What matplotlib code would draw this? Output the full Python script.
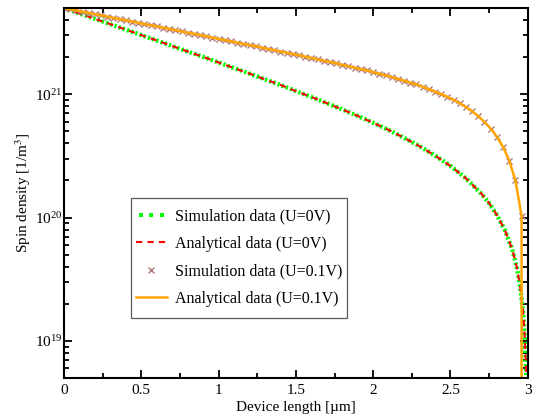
import numpy as np
import matplotlib
matplotlib.use('Agg')
import matplotlib.pyplot as plt
from matplotlib.lines import Line2D
from matplotlib.patches import Rectangle
from matplotlib.legend_handler import HandlerLine2D

plt.rcParams['font.family'] = ['Liberation Serif', 'DejaVu Serif']
plt.rcParams['mathtext.fontset'] = 'stix'

# U = 0V : spin density along the device
x_u0 = [0.0, 0.1, 0.2, 0.3, 0.4, 0.5, 0.6, 0.7, 0.8, 0.9,
        1.0, 1.1, 1.2, 1.3, 1.4, 1.5, 1.6, 1.7, 1.8, 1.9,
        2.0, 2.1, 2.2, 2.3, 2.4, 2.5, 2.6, 2.7, 2.75, 2.8,
        2.85, 2.9, 2.93, 2.95, 2.97, 2.98, 2.99, 3.0]
n_u0 = [5.00e21, 4.52e21, 4.09e21, 3.70e21, 3.34e21, 3.02e21, 2.73e21, 2.46e21, 2.22e21, 2.01e21,
        1.81e21, 1.63e21, 1.47e21, 1.32e21, 1.19e21, 1.06e21, 9.50e20, 8.47e20, 7.53e20, 6.67e20,
        5.87e20, 5.13e20, 4.43e20, 3.79e20, 3.18e20, 2.62e20, 2.08e20, 1.56e20, 1.31e20, 1.05e20,
        8.0e19, 5.5e19, 3.9e19, 2.8e19, 1.7e19, 1.1e19, 5.5e18, 0.0]

# U = 0.1V : sampled every 0.04 um
x_u01 = np.linspace(0, 3, 76)
n_u01 = [5.00e21, 4.89e21, 4.78e21, 4.67e21, 4.57e21, 4.46e21, 4.36e21, 4.26e21, 4.16e21, 4.07e21,
         3.98e21, 3.89e21, 3.80e21, 3.71e21, 3.63e21, 3.55e21, 3.47e21, 3.39e21, 3.31e21, 3.23e21,
         3.16e21, 3.09e21, 3.02e21, 2.95e21, 2.88e21, 2.81e21, 2.75e21, 2.69e21, 2.62e21, 2.56e21,
         2.50e21, 2.45e21, 2.39e21, 2.33e21, 2.28e21, 2.22e21, 2.17e21, 2.12e21, 2.07e21, 2.02e21,
         1.97e21, 1.92e21, 1.87e21, 1.83e21, 1.78e21, 1.73e21, 1.69e21, 1.64e21, 1.60e21, 1.56e21,
         1.51e21, 1.47e21, 1.42e21, 1.38e21, 1.33e21, 1.29e21, 1.24e21, 1.20e21, 1.15e21, 1.10e21,
         1.05e21, 1.00e21, 9.53e20, 9.00e20, 8.45e20, 7.87e20, 7.27e20, 6.64e20, 5.97e20, 5.27e20,
         4.53e20, 3.74e20, 2.90e20, 2.00e20, 1.03e20, 0.0]

labels = ['Simulation data (U=0V)', 'Analytical data (U=0V)',
          'Simulation data (U=0.1V)', 'Analytical data (U=0.1V)']

green = '#00ff00'
red = '#ff0000'
rose = '#b07a7a'
orange = '#ffa500'

fig = plt.figure(figsize=(5.38, 4.18), dpi=100)
ax = fig.add_axes([0.119, 0.0957, 0.862, 0.885])

ax.plot(x_u0, n_u0, color=green, lw=3.2, linestyle=(0, (0.5, 0.5)), dash_capstyle='butt')
ax.plot(x_u0, n_u0, color=red, lw=1.5, linestyle=(0, (3, 2.5)))
ax.plot(x_u01, n_u01, color=rose, ls='none', marker='x', ms=5, mew=1)
ax.plot(x_u01, n_u01, color=orange, lw=1.8)

ax.set_yscale('log')
ax.set_xlim(0, 3)
ax.set_ylim(5e18, 5e21)
ax.set_xticks([0, 0.5, 1, 1.5, 2, 2.5, 3])
ax.set_xticklabels(['0', '0.5', '1', '1.5', '2', '2.5', '3'])
ax.set_xticks(np.arange(0.25, 3, 0.5), minor=True)
ax.set_yticks([1e19, 1e20, 1e21])

ax.tick_params(which='both', direction='in', top=True, right=True, width=1.3, labelsize=11)
ax.tick_params(which='major', length=6)
ax.tick_params(which='minor', length=3.5)
ax.tick_params(axis='y', which='major', pad=1)
ax.tick_params(axis='x', which='major', pad=4)
for sp in ax.spines.values():
    sp.set_linewidth(1.5)

ax.set_xlabel('Device length [µm]', fontsize=11, labelpad=3)
ax.set_ylabel('Spin density [1/m$^3$]', fontsize=11)
ax.yaxis.set_label_coords(-0.066, 0.5)

# legend box drawn separately so the padding can differ per side
box = Rectangle((0.1444, 0.1622), 0.4655, 0.3243, transform=ax.transAxes,
                facecolor='white', edgecolor='0.35', lw=0.9, zorder=4.5)
ax.add_patch(box)

sim0 = Line2D([], [], color=green, ls='none', marker='s', ms=2.6, mew=0)
handles = [
    sim0,
    Line2D([], [], color=red, lw=1.5, linestyle=(0, (3, 2.5))),
    Line2D([], [], color=rose, ls='none', marker='x', ms=5, mew=1),
    Line2D([], [], color=orange, lw=1.8),
]
leg = ax.legend(handles, labels, loc='center left', bbox_to_anchor=(0.155, 0.326),
                fontsize=11.5, numpoints=1, handlelength=1.94, handletextpad=0.5,
                labelspacing=0.72, borderpad=0, borderaxespad=0, frameon=False,
                handler_map={sim0: HandlerLine2D(numpoints=3)})
leg.set_zorder(5)

fig.savefig('out.png', dpi=100)
